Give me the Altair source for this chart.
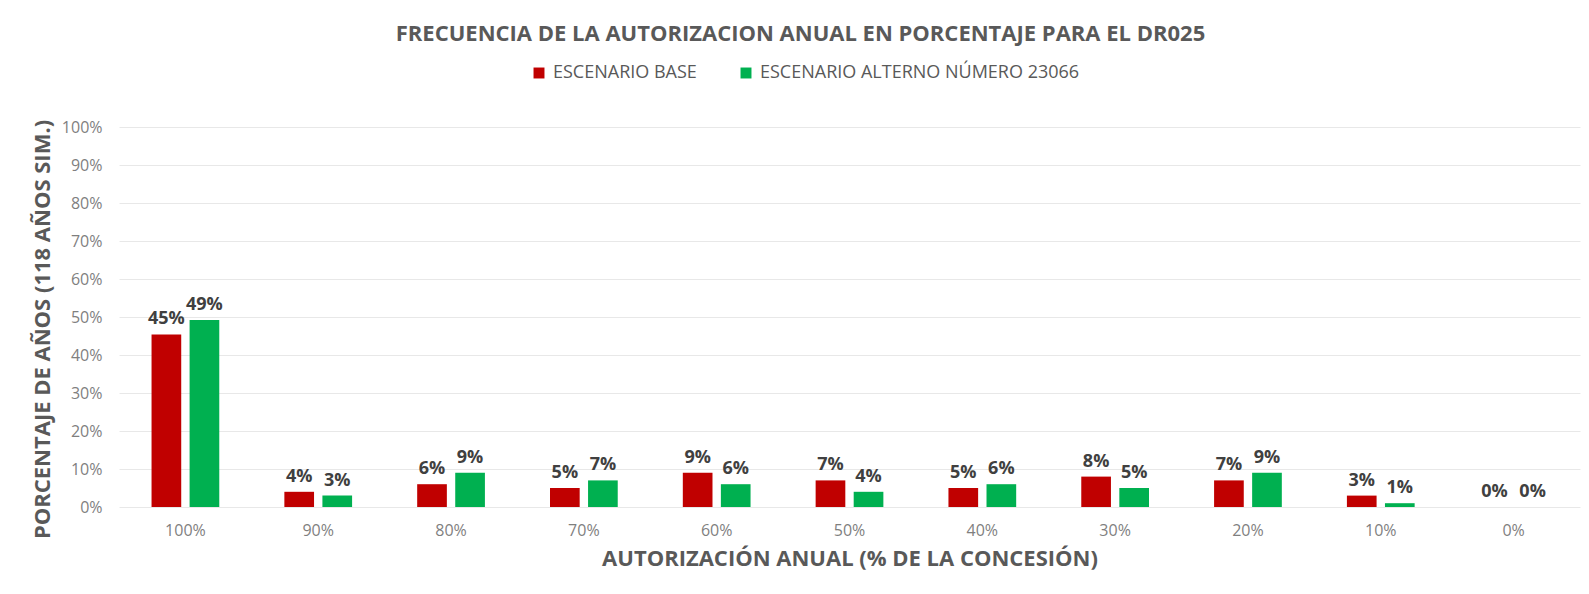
import altair as alt
import pandas as pd

categories = ["100%", "90%", "80%", "70%", "60%", "50%", "40%", "30%", "20%", "10%", "0%"]
base = [0.454, 0.04, 0.06, 0.05, 0.09, 0.07, 0.05, 0.08, 0.07, 0.03, 0.0]
alterno = [0.492, 0.03, 0.09, 0.07, 0.06, 0.04, 0.06, 0.05, 0.09, 0.01, 0.0]
series = ["ESCENARIO BASE", "ESCENARIO ALTERNO NÚMERO 23066"]
colors = ["#C00000", "#00B050"]

rows = []
for c, b, a in zip(categories, base, alterno):
    rows.append({"cat": c, "serie": series[0], "val": b})
    rows.append({"cat": c, "serie": series[1], "val": a})
df = pd.DataFrame(rows)

FONT = "Open Sans"
GRAY = "#595959"

x = alt.X("cat:N", sort=categories,
          scale=alt.Scale(paddingInner=0.49, paddingOuter=0.245),
          axis=alt.Axis(title="AUTORIZACIÓN ANUAL (% DE LA CONCESIÓN)", labelAngle=0,
                        domain=False, ticks=False, labelPadding=15, titlePadding=10,
                        labelFontSize=16, labelColor="#7F7F7F", labelFont=FONT,
                        titleFont=FONT, titleFontSize=22, titleFontWeight="bold",
                        titleColor=GRAY))
xo = alt.XOffset("serie:N", sort=series, scale=alt.Scale(paddingInner=0.22))
y = alt.Y("val:Q", scale=alt.Scale(domain=[0, 1]),
          axis=alt.Axis(title="PORCENTAJE DE AÑOS (118 AÑOS SIM.)", format=".0%",
                        values=[i / 10 for i in range(11)], domain=False, ticks=False,
                        labelPadding=17, labelFontSize=16, labelColor="#7F7F7F",
                        labelFont=FONT, gridColor="#E8E8E8",
                        titleFont=FONT, titleFontSize=22, titleFontWeight="bold",
                        titleColor=GRAY, titleX=-77, titleY=202, titleBaseline="middle"))
color = alt.Color("serie:N", sort=series,
                  scale=alt.Scale(domain=series, range=colors),
                  legend=alt.Legend(title=None, orient="none", direction="horizontal",
                                    legendX=411, legendY=-63, symbolType="square",
                                    symbolSize=120, symbolStrokeWidth=0,
                                    labelFontSize=18, labelColor=GRAY, labelFont=FONT,
                                    labelLimit=0, columnPadding=40, labelOffset=5))

bars = alt.Chart(df).mark_bar().encode(x=x, xOffset=xo, y=y, color=color)
labels = alt.Chart(df).mark_text(dy=-15, fontSize=18, fontWeight="bold",
                                 color="#404040", font=FONT).encode(
    x=x, xOffset=xo, y=y, text=alt.Text("val:Q", format=".0%"))

chart = (bars + labels).properties(
    width=1461, height=380,
    autosize=alt.AutoSizeParams(type="none"),
    padding={"left": 111, "top": 119, "right": 1, "bottom": 70},
    title=alt.Title("FRECUENCIA DE LA AUTORIZACION ANUAL EN PORCENTAJE PARA EL DR025",
                    font=FONT, fontSize=22, fontWeight="bold", color=GRAY,
                    anchor="middle", dx=-49, offset=18),
).configure_view(stroke=None).configure_axisY(grid=True).configure_axisX(grid=False)

chart.save("out.html", embed_options={"renderer": "svg", "actions": False})
